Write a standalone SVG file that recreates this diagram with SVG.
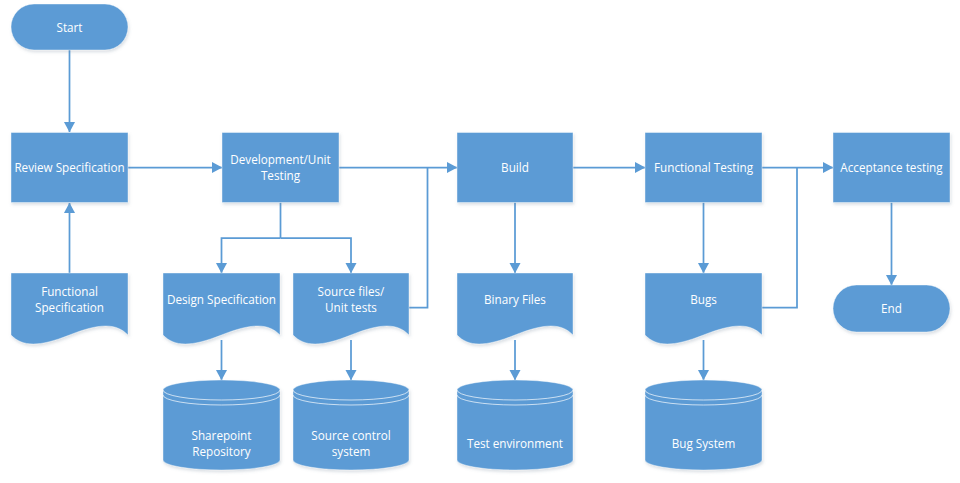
<svg xmlns="http://www.w3.org/2000/svg" width="960" height="483" viewBox="0 0 960 483">
<style>
.s{fill:#5B9BD5;stroke:#ffffff;stroke-opacity:0.55;stroke-width:0.75;filter:url(#sh)}
.t{fill:#ffffff;font-family:"Segoe UI","Open Sans","Noto Sans",sans-serif;font-size:11.7px;text-anchor:middle;dominant-baseline:central}
.c{fill:none;stroke:#5B9BD5;stroke-width:1.75;marker-end:url(#ah)}
.cn{fill:none;stroke:#5B9BD5;stroke-width:1.75}
.l{fill:none;stroke:#ffffff;stroke-opacity:0.85;stroke-width:0.8}
</style>
<defs>
<filter id="sh" x="-10%" y="-10%" width="125%" height="130%">
<feDropShadow dx="1" dy="2" stdDeviation="1.8" flood-color="#6d7f94" flood-opacity="0.25"/>
</filter>
<marker id="ah" markerWidth="7" markerHeight="7" refX="5.8" refY="3.5" orient="auto" markerUnits="strokeWidth" viewBox="0 0 7 7">
<path d="M0,0.3 L6,3.5 L0,6.7 Z" fill="#5B9BD5"/>
</marker>
</defs>
<rect width="960" height="483" fill="#ffffff"/>
<g id="connectors">
<path class="c" d="M69.5,50 V132"/>
<path class="c" d="M69.5,273 V203"/>
<path class="c" d="M128,167.5 H222"/>
<path class="cn" d="M280.5,202.5 V238"/>
<path class="c" d="M280.5,238 H221.5 V273"/>
<path class="c" d="M280.5,238 H351 V273"/>
<path class="c" d="M339,167.5 H457"/>
<path class="cn" d="M409,307.5 H427.5 V167.5"/>
<path class="c" d="M573,167.5 H645"/>
<path class="c" d="M762,167.5 H833"/>
<path class="cn" d="M762,307.5 H797 V167.5"/>
<path class="c" d="M515,202.5 V273"/>
<path class="c" d="M703.5,202.5 V273"/>
<path class="c" d="M891.5,202.5 V285"/>
<path class="c" d="M221.5,340 V380"/>
<path class="c" d="M351,340 V380"/>
<path class="c" d="M515,340 V380"/>
<path class="c" d="M703.5,340 V380"/>
</g>
<g id="start"><rect class="s" x="11" y="4" width="117" height="46" rx="23"/><text class="t" x="69.5" y="26.5">Start</text></g>
<g id="review"><rect class="s" x="11" y="132.5" width="117" height="70"/><text class="t" x="69.5" y="167">Review Specification</text></g>
<g id="dev"><rect class="s" x="222" y="132.5" width="117" height="70"/><text class="t" x="280.5" y="159">Development/Unit</text><text class="t" x="280.5" y="175">Testing</text></g>
<g id="build"><rect class="s" x="457" y="132.5" width="116" height="70"/><text class="t" x="515" y="167">Build</text></g>
<g id="functest"><rect class="s" x="645" y="132.5" width="117" height="70"/><text class="t" x="703.5" y="167">Functional Testing</text></g>
<g id="accept"><rect class="s" x="833" y="132.5" width="117" height="70"/><text class="t" x="891.5" y="167">Acceptance testing</text></g>
<g id="end"><rect class="s" x="833" y="285" width="117" height="47" rx="23.5"/><text class="t" x="891.5" y="308">End</text></g>
<g id="funcspec"><path class="s" d="M11,273 H128 V335 C116.3,323 99.8,323 69.5,335 C39.2,347 22.7,347 11,335 Z"/><text class="t" x="69.5" y="291">Functional</text><text class="t" x="69.5" y="307">Specification</text></g>
<g id="designspec"><path class="s" d="M163,273 H280 V335 C268.3,323 251.8,323 221.5,335 C191.2,347 174.7,347 163,335 Z"/><text class="t" x="221.5" y="299">Design Specification</text></g>
<g id="sourcefiles"><path class="s" d="M293,273 H409 V335 C397.4,323 381,323 351,335 C321,347 304.6,347 293,335 Z"/><text class="t" x="351" y="291">Source files/</text><text class="t" x="351" y="307">Unit tests</text></g>
<g id="binary"><path class="s" d="M457,273 H573 V335 C561.4,323 545,323 515,335 C485,347 468.6,347 457,335 Z"/><text class="t" x="515" y="299">Binary Files</text></g>
<g id="bugs"><path class="s" d="M645,273 H762 V335 C750.3,323 733.8,323 703.5,335 C673.2,347 656.7,347 645,335 Z"/><text class="t" x="703.5" y="299">Bugs</text></g>
<g id="sharepoint"><path class="s" d="M163,390 A58.5,10 0 0 1 280,390 V460 A58.5,10 0 0 1 163,460 Z"/><path class="l" d="M163,390 A58.5,10 0 0 0 280,390 M163,395 A58.5,10 0 0 0 280,395"/><text class="t" x="221.5" y="435">Sharepoint</text><text class="t" x="221.5" y="451">Repository</text></g>
<g id="sourcecontrol"><path class="s" d="M293,390 A58,10 0 0 1 409,390 V460 A58,10 0 0 1 293,460 Z"/><path class="l" d="M293,390 A58,10 0 0 0 409,390 M293,395 A58,10 0 0 0 409,395"/><text class="t" x="351" y="435">Source control</text><text class="t" x="351" y="451">system</text></g>
<g id="testenv"><path class="s" d="M457,390 A58,10 0 0 1 573,390 V460 A58,10 0 0 1 457,460 Z"/><path class="l" d="M457,390 A58,10 0 0 0 573,390 M457,395 A58,10 0 0 0 573,395"/><text class="t" x="515" y="443">Test environment</text></g>
<g id="bugsystem"><path class="s" d="M645,390 A58.5,10 0 0 1 762,390 V460 A58.5,10 0 0 1 645,460 Z"/><path class="l" d="M645,390 A58.5,10 0 0 0 762,390 M645,395 A58.5,10 0 0 0 762,395"/><text class="t" x="703.5" y="443">Bug System</text></g>
</svg>
